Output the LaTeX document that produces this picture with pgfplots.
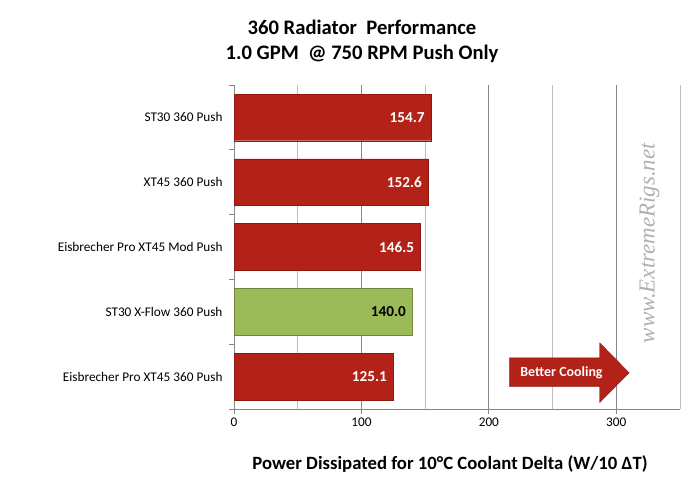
\documentclass[border=0pt]{standalone}
\usepackage{pgfplots}
\pgfplotsset{compat=1.18}
\usepackage{fontspec}
\setmainfont{Carlito}
\newfontfamily\wmfont{Liberation Serif}
\definecolor{barred}{RGB}{178,34,24}
\definecolor{barredb}{RGB}{140,24,16}
\definecolor{bargreen}{RGB}{155,187,89}
\definecolor{bargreenb}{RGB}{113,137,63}
\definecolor{axgray}{RGB}{134,134,134}
\definecolor{mingray}{RGB}{190,190,190}
\begin{document}
\begin{tikzpicture}[x=1bp,y=1bp]
\useasboundingbox (0,0) rectangle (699,491);
\begin{axis}[
  at={(234bp,82bp)}, anchor=south west,
  scale only axis, width=446bp, height=324bp,
  xbar, bar width=0.72, bar shift=0pt,
  xmin=0, xmax=350, ymin=-0.5, ymax=4.5, y dir=reverse,
  axis lines*=left, axis line style={axgray, -},
  xtick={0,100,200,300}, minor xtick={50,150,250,350},
  xmajorgrids, xminorgrids,
  major grid style={axgray, line width=0.8pt},
  minor grid style={mingray, line width=0.8pt},
  major tick length=5bp, minor tick length=0pt,
  tick align=outside, tick style={axgray, line width=0.8pt},
  ytick={0,1,2,3,4},
  yticklabels={ST30 360 Push, XT45 360 Push, Eisbrecher Pro XT45 Mod Push, ST30 X-Flow 360 Push, Eisbrecher Pro XT45 360 Push},
  y tick style={draw=none},
  extra y ticks={-0.5,0.5,1.5,2.5,3.5,4.5}, extra y tick labels={},
  extra y tick style={y tick style={draw=axgray, line width=0.8pt}, major tick length=5bp, grid=none},
  ticklabel style={font=\fontsize{13.3}{15}\selectfont, text=black},
  yticklabel style={xshift=-3bp},
  /pgf/number format/assume math mode=true,
  nodes near coords={\pgfmathprintnumber[fixed,fixed zerofill,precision=1]{\pgfplotspointmeta}},
  nodes near coords style={font=\fontsize{15.3}{17}\selectfont\bfseries, anchor=east, xshift=-3bp},
  clip=false,
]
\addplot[fill=barred, draw=barredb, nodes near coords style={text=white}] coordinates {(154.7,0) (152.6,1) (146.5,2) (125.1,4)};
\addplot[fill=bargreen, draw=bargreenb, nodes near coords style={text=black}] coordinates {(140.0,3)};
\fill[barred, draw=barredb] (axis cs:216,3.71) -- (axis cs:287,3.71) -- (axis cs:287,3.48) -- (axis cs:310,3.94) -- (axis cs:287,4.40) -- (axis cs:287,4.15) -- (axis cs:216,4.15) -- cycle;
\node[text=white, font=\fontsize{14}{16}\selectfont\bfseries] at (axis cs:257,3.94) {Better Cooling};
\node[rotate=90, text=gray!62, font=\wmfont\itshape\fontsize{23}{26}\selectfont] at (axis cs:326,1.94) {www.ExtremeRigs.net};
\end{axis}
\node[font=\fontsize{20.7}{23}\selectfont\bfseries, anchor=base] at (362,456) {360 Radiator\ \ Performance};
\node[font=\fontsize{20.7}{23}\selectfont\bfseries, anchor=base] at (362,431) {1.0 GPM\ \ @ 750 RPM\ Push Only};
\node[font=\fontsize{18.8}{21}\selectfont\bfseries, anchor=base] at (450,21) {Power Dissipated for 10°C Coolant Delta (W/10 ΔT)};
\end{tikzpicture}
\end{document}
